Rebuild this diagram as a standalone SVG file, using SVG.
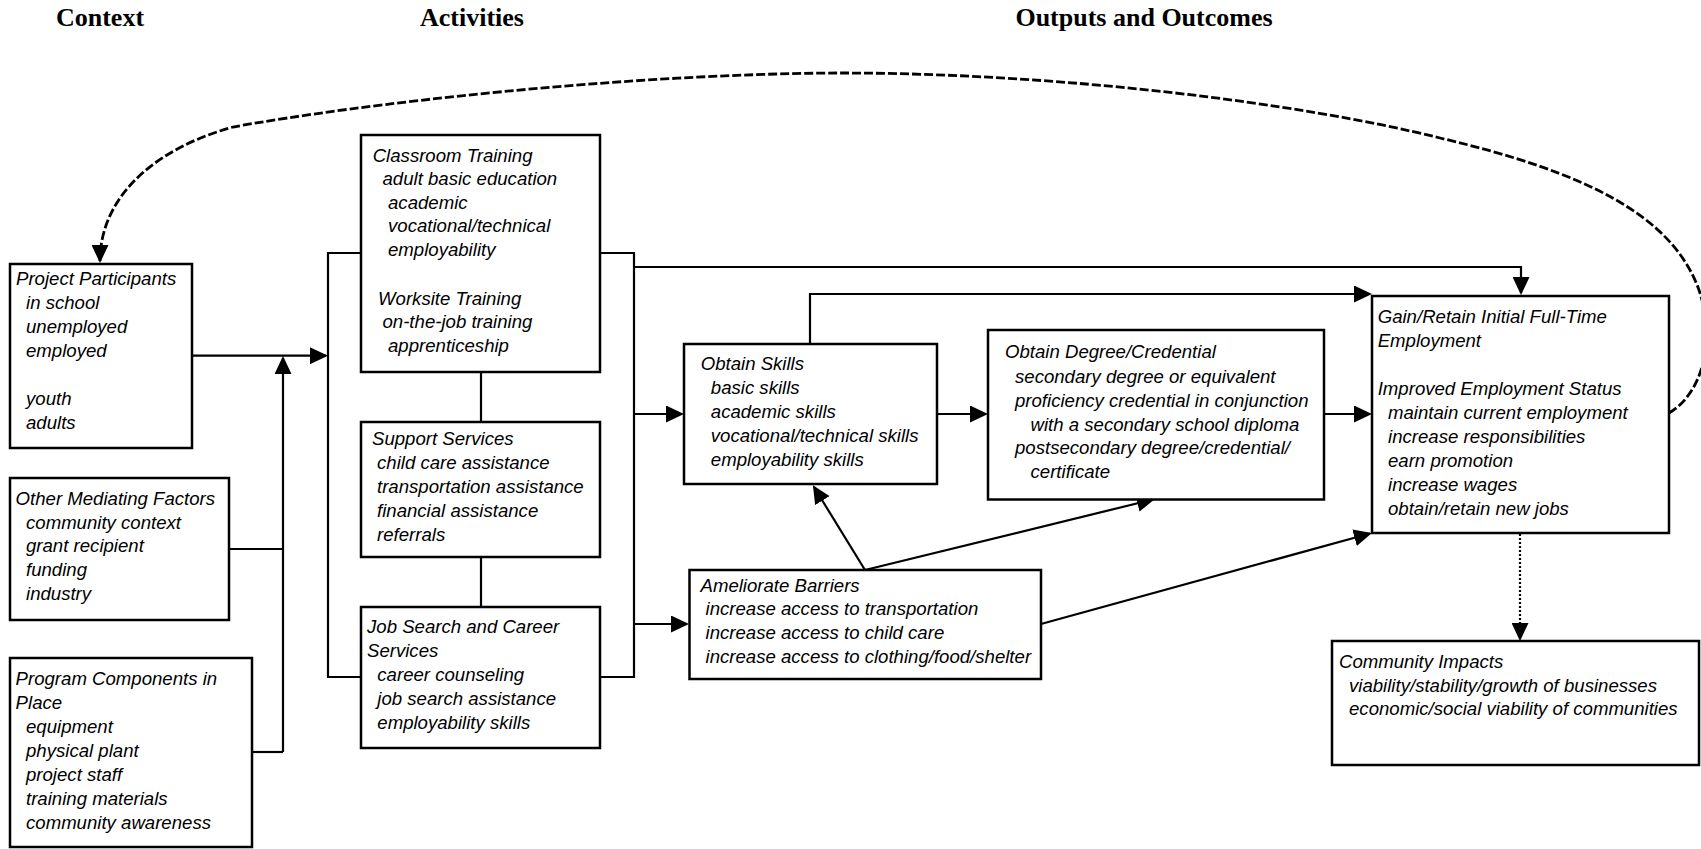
<svg xmlns="http://www.w3.org/2000/svg" width="1701" height="849" viewBox="0 0 1701 849">
<style>
.box{fill:#fff;stroke:#000;stroke-width:2.5}
.t{font-family:"Liberation Sans",Arial,sans-serif;font-style:italic;font-size:18.6px;fill:#000}
.h{font-family:"Liberation Serif","Times New Roman",serif;font-weight:bold;font-size:26px;fill:#000;text-anchor:middle}
.c{fill:none;stroke:#000;stroke-width:2.2}
.dash{stroke-dasharray:9 3;stroke-width:2.8}
.dot{stroke-dasharray:2 2;stroke-width:2.2}
</style>
<defs>
<marker id="ah" markerUnits="userSpaceOnUse" markerWidth="18" markerHeight="17" viewBox="0 0 18 17" refX="16" refY="8.5" orient="auto">
<path d="M0,0 L18,8.5 L0,17 Z" fill="#000" stroke="none"/>
</marker>
</defs>
<rect width="1701" height="849" fill="#fff"/>
<g id="headings">
<text class="h" x="100" y="26">Context</text>
<text class="h" x="472" y="26">Activities</text>
<text class="h" x="1144" y="26">Outputs and Outcomes</text>
</g>
<g id="connectors">
<path class="c" d="M192,355.7 H326" marker-end="url(#ah)"/>
<path class="c" d="M283,752 V358" marker-end="url(#ah)"/>
<path class="c" d="M229,549 H283"/>
<path class="c" d="M252,752 H283"/>
<path class="c" d="M361,253 H328 V677 H361"/>
<path class="c" d="M600,253 H634 V677 H600"/>
<path class="c" d="M481,372 V422"/>
<path class="c" d="M481,557 V607"/>
<path class="c" d="M634,267 H1521 V293" marker-end="url(#ah)"/>
<path class="c" d="M810,344 V294 H1370" marker-end="url(#ah)"/>
<path class="c" d="M634,414 H682" marker-end="url(#ah)"/>
<path class="c" d="M937,414 H986" marker-end="url(#ah)"/>
<path class="c" d="M1324,414 H1370" marker-end="url(#ah)"/>
<path class="c" d="M634,624 H687" marker-end="url(#ah)"/>
<path class="c" d="M865,570 L814,487" marker-end="url(#ah)"/>
<path class="c" d="M865,570 L1153,499.5" marker-end="url(#ah)"/>
<path class="c" d="M1041,624 L1370,533.5" marker-end="url(#ah)"/>
<path class="c dot" d="M1520,534 V639" marker-end="url(#ah)"/>
<path class="c dash" d="M1669,413 C1703,393 1716,340 1699,290 C1672,215 1585,172 1440,138 C1300,103 1060,73 840,73 C620,74 360,104 233,127 C150,150 100,200 100,261" marker-end="url(#ah)"/>
</g>
<g id="project-participants">
<rect class="box" x="10" y="264" width="182" height="184"/>
<text class="t"><tspan x="16" y="285">Project Participants</tspan><tspan x="26" y="309">in school</tspan><tspan x="26" y="333">unemployed</tspan><tspan x="26" y="357">employed</tspan><tspan x="26" y="405">youth</tspan><tspan x="26" y="429">adults</tspan></text>
</g>
<g id="other-mediating-factors">
<rect class="box" x="10" y="478" width="219" height="142"/>
<text class="t"><tspan x="15.6" y="505">Other Mediating Factors</tspan><tspan x="26" y="528.5">community context</tspan><tspan x="26" y="552">grant recipient</tspan><tspan x="26" y="576">funding</tspan><tspan x="26" y="599.5">industry</tspan></text>
</g>
<g id="program-components">
<rect class="box" x="10" y="658" width="242" height="189"/>
<text class="t"><tspan x="15.6" y="685">Program Components in</tspan><tspan x="15.6" y="709">Place</tspan><tspan x="26" y="733">equipment</tspan><tspan x="26" y="757">physical plant</tspan><tspan x="26" y="781">project staff</tspan><tspan x="26" y="805">training materials</tspan><tspan x="26" y="829">community awareness</tspan></text>
</g>
<g id="classroom-training">
<rect class="box" x="361" y="135" width="239" height="237"/>
<text class="t"><tspan x="372.7" y="162">Classroom Training</tspan><tspan x="382.5" y="185">adult basic education</tspan><tspan x="388" y="209">academic</tspan><tspan x="388" y="232">vocational/technical</tspan><tspan x="388" y="255.5">employability</tspan><tspan x="378" y="305">Worksite Training</tspan><tspan x="382.5" y="328.3">on-the-job training</tspan><tspan x="388" y="351.7">apprenticeship</tspan></text>
</g>
<g id="support-services">
<rect class="box" x="361" y="422" width="239" height="135"/>
<text class="t"><tspan x="372" y="445">Support Services</tspan><tspan x="377" y="469.3">child care assistance</tspan><tspan x="377" y="493.3">transportation assistance</tspan><tspan x="377" y="517.3">financial assistance</tspan><tspan x="377" y="541">referrals</tspan></text>
</g>
<g id="job-search">
<rect class="box" x="361" y="607" width="239" height="141"/>
<text class="t"><tspan x="367" y="632.7">Job Search and Career</tspan><tspan x="367" y="656.7">Services</tspan><tspan x="377.3" y="680.7">career counseling</tspan><tspan x="377.3" y="705">job search assistance</tspan><tspan x="377.3" y="729.3">employability skills</tspan></text>
</g>
<g id="obtain-skills">
<rect class="box" x="684" y="344" width="253" height="140"/>
<text class="t"><tspan x="700.7" y="370">Obtain Skills</tspan><tspan x="710.8" y="394">basic skills</tspan><tspan x="710.8" y="418.3">academic skills</tspan><tspan x="710.8" y="442.3">vocational/technical skills</tspan><tspan x="710.8" y="466">employability skills</tspan></text>
</g>
<g id="obtain-degree">
<rect class="box" x="988" y="330" width="336" height="169.5"/>
<text class="t"><tspan x="1005" y="358.3">Obtain Degree/Credential</tspan><tspan x="1015" y="382.7">secondary degree or equivalent</tspan><tspan x="1015" y="407.3">proficiency credential in conjunction</tspan><tspan x="1030.5" y="430.5">with a secondary school diploma</tspan><tspan x="1015" y="454.3">postsecondary degree/credential/</tspan><tspan x="1030.5" y="477.5">certificate</tspan></text>
</g>
<g id="ameliorate-barriers">
<rect class="box" x="689.5" y="570" width="351.5" height="109"/>
<text class="t"><tspan x="700.5" y="591.7">Ameliorate Barriers</tspan><tspan x="705.5" y="615">increase access to transportation</tspan><tspan x="705.5" y="639.3">increase access to child care</tspan><tspan x="705.5" y="663.3">increase access to clothing/food/shelter</tspan></text>
</g>
<g id="gain-retain">
<rect class="box" x="1372" y="296" width="297" height="237"/>
<text class="t"><tspan x="1377.7" y="323.3">Gain/Retain Initial Full-Time</tspan><tspan x="1377.7" y="347">Employment</tspan><tspan x="1377.7" y="395">Improved Employment Status</tspan><tspan x="1388" y="418.5">maintain current employment</tspan><tspan x="1388" y="442.5">increase responsibilities</tspan><tspan x="1388" y="466.7">earn promotion</tspan><tspan x="1388" y="490.5">increase wages</tspan><tspan x="1388" y="514.5">obtain/retain new jobs</tspan></text>
</g>
<g id="community-impacts">
<rect class="box" x="1332" y="641" width="367" height="124"/>
<text class="t"><tspan x="1339" y="668.3">Community Impacts</tspan><tspan x="1349" y="692">viability/stability/growth of businesses</tspan><tspan x="1349" y="715">economic/social viability of communities</tspan></text>
</g>
</svg>
